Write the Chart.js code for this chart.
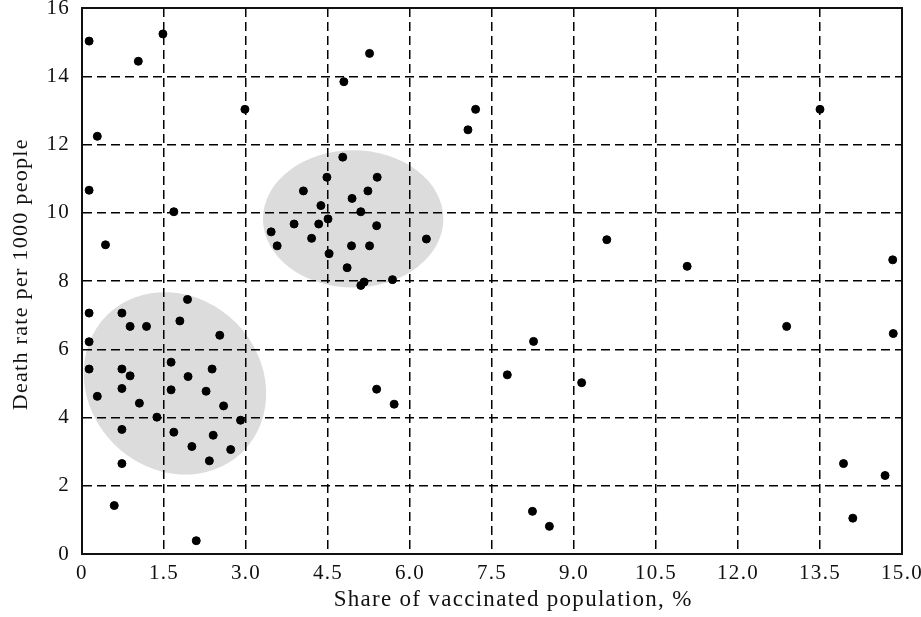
<!DOCTYPE html>
<html>
<head>
<meta charset="utf-8">
<script src="https://cdn.jsdelivr.net/npm/chart.js@4.4.0/dist/chart.umd.min.js"></script>
<style>
  html, body { margin: 0; padding: 0; background: #fff; }
  #wrap { width: 921px; height: 617px; }
</style>
</head>
<body>
<div id="wrap"><canvas id="scatterChart" width="921" height="617"></canvas></div>
<script>
// values
const xValues = [
  0.13, 1.48, 1.03, 2.98, 0.28, 0.13, 1.68, 0.43,
  5.26, 4.79, 7.20, 7.06, 4.77, 4.48, 5.40, 4.05, 5.23, 4.94, 4.37, 5.10,
  4.50, 4.33, 5.39, 4.20, 6.30, 9.60, 4.93, 5.26, 4.52, 4.85, 5.68, 5.16,
  5.10, 3.88, 3.46, 3.57, 13.50, 11.07, 14.83,
  1.93, 0.13, 0.73, 1.79, 0.88, 1.18, 2.52, 0.13, 1.63, 0.13, 0.73, 2.38,
  0.88, 1.94, 0.73, 1.63, 2.27, 0.28, 1.05, 2.59, 1.37, 2.90, 0.73, 1.68,
  2.40, 2.01, 2.72, 2.33, 0.73, 0.59, 2.09,
  8.26, 7.78, 9.14, 5.39, 5.71, 8.24, 8.55, 12.89, 14.84, 13.93, 14.69, 14.10
];
const yValues = [
  15.03, 15.24, 14.44, 13.03, 12.24, 10.66, 10.03, 9.06,
  14.67, 13.84, 13.03, 12.43, 11.63, 11.04, 11.04, 10.64, 10.64, 10.42, 10.21, 10.03,
  9.82, 9.67, 9.62, 9.25, 9.23, 9.21, 9.03, 9.03, 8.80, 8.39, 8.04, 7.97,
  7.87, 9.67, 9.44, 9.03, 13.03, 8.43, 8.62,
  7.46, 7.06, 7.06, 6.83, 6.67, 6.67, 6.41, 6.22, 5.62, 5.42, 5.42, 5.42,
  5.22, 5.20, 4.85, 4.81, 4.77, 4.62, 4.42, 4.34, 4.01, 3.92, 3.65, 3.57,
  3.48, 3.15, 3.06, 2.73, 2.65, 1.42, 0.39,
  6.23, 5.25, 5.02, 4.83, 4.39, 1.25, 0.81, 6.67, 6.46, 2.65, 2.30, 1.05
];
const xTickLabels = ['0', '1.5', '3.0', '4.5', '6.0', '7.5', '9.0', '10.5', '12.0', '13.5', '15.0'];
const yTickLabels = ['0', '2', '4', '6', '8', '10', '12', '14', '16'];

// highlighted clusters: centre (data units), half-size (data units)
const clusterX = [1.70, 4.96];
const clusterY = [5.00, 9.82];
const clusterRx = [1.76, 1.65];
const clusterRy = [2.52, 2.01];
const clusterTilt = [Math.PI / 4, 0];

const points = xValues.map((x, i) => ({ x: x, y: yValues[i] }));

const serif = "'Liberation Serif', 'Times New Roman', serif";

// grey ellipses go under the grid, frame goes over it
const clusterPlugin = {
  id: 'clusters',
  beforeDraw(chart) {
    const { ctx, scales: { x, y } } = chart;
    // the original lettering is a bit wider than Times
    ctx.letterSpacing = '1.3px';
    ctx.save();
    ctx.fillStyle = '#fff';
    ctx.fillRect(0, 0, chart.width, chart.height);
    ctx.fillStyle = '#dcdcdc';
    clusterX.forEach((cx, i) => {
      const px = x.getPixelForValue(cx);
      const py = y.getPixelForValue(clusterY[i]);
      const rx = x.getPixelForValue(cx + clusterRx[i]) - px;
      const ry = py - y.getPixelForValue(clusterY[i] + clusterRy[i]);
      ctx.beginPath();
      ctx.ellipse(px, py, rx, ry, clusterTilt[i], 0, Math.PI * 2);
      ctx.fill();
    });
    ctx.restore();
  },
  beforeDatasetsDraw(chart) {
    const { ctx, chartArea: a } = chart;
    ctx.save();
    ctx.setLineDash([]);
    ctx.strokeStyle = '#111';
    ctx.lineWidth = 2;
    ctx.strokeRect(a.left, a.top, a.right - a.left, a.bottom - a.top);
    ctx.restore();
  }
};

const ctx = document.getElementById('scatterChart').getContext('2d');

new Chart(ctx, {
  type: 'scatter',
  data: {
    datasets: [{
      data: points,
      backgroundColor: '#000',
      borderColor: '#000',
      pointRadius: 4,
      pointHoverRadius: 4
    }]
  },
  options: {
    responsive: false,
    animation: false,
    layout: { padding: { top: 8, right: 19, left: 0, bottom: 0 } },
    plugins: { legend: { display: false }, tooltip: { enabled: false } },
    scales: {
      x: {
        type: 'linear',
        min: 0,
        max: 15,
        afterBuildTicks: (scale) => {
          scale.ticks = xTickLabels.map((t, i) => ({ value: i * 1.5 }));
        },
        afterFit: (scale) => {
          scale.height = 63;
          scale.paddingLeft = 0;
          scale.paddingRight = 0;
        },
        grid: { color: '#000', lineWidth: 1.5, drawTicks: false },
        border: { display: true, color: '#111', width: 2, dash: [9, 5] },
        ticks: {
          color: '#111',
          padding: 7,
          maxRotation: 0,
          autoSkip: false,
          font: { family: serif, size: 21 },
          callback: (v, i) => xTickLabels[i]
        },
        title: {
          display: true,
          // leading blanks nudge the title a little right, as in the original
          text: '      Share of vaccinated population, %',
          color: '#111',
          font: { family: serif, size: 23 },
          padding: { top: 0, bottom: 3 }
        }
      },
      y: {
        type: 'linear',
        min: 0,
        max: 16,
        afterBuildTicks: (scale) => {
          scale.ticks = yTickLabels.map((t) => ({ value: Number(t) }));
        },
        afterFit: (scale) => {
          scale.width = 82;
          scale.paddingTop = 0;
          scale.paddingBottom = 0;
        },
        grid: { color: '#000', lineWidth: 1.5, drawTicks: false },
        border: { display: true, color: '#111', width: 2, dash: [9, 5] },
        ticks: {
          color: '#111',
          padding: 12,
          autoSkip: false,
          font: { family: serif, size: 21 },
          callback: (v, i) => yTickLabels[i]
        },
        title: {
          display: true,
          text: '  Death rate per 1000 people',
          color: '#111',
          font: { family: serif, size: 22 },
          padding: { top: 8, bottom: 0 }
        }
      }
    }
  },
  plugins: [clusterPlugin]
});
</script>
</body>
</html>
